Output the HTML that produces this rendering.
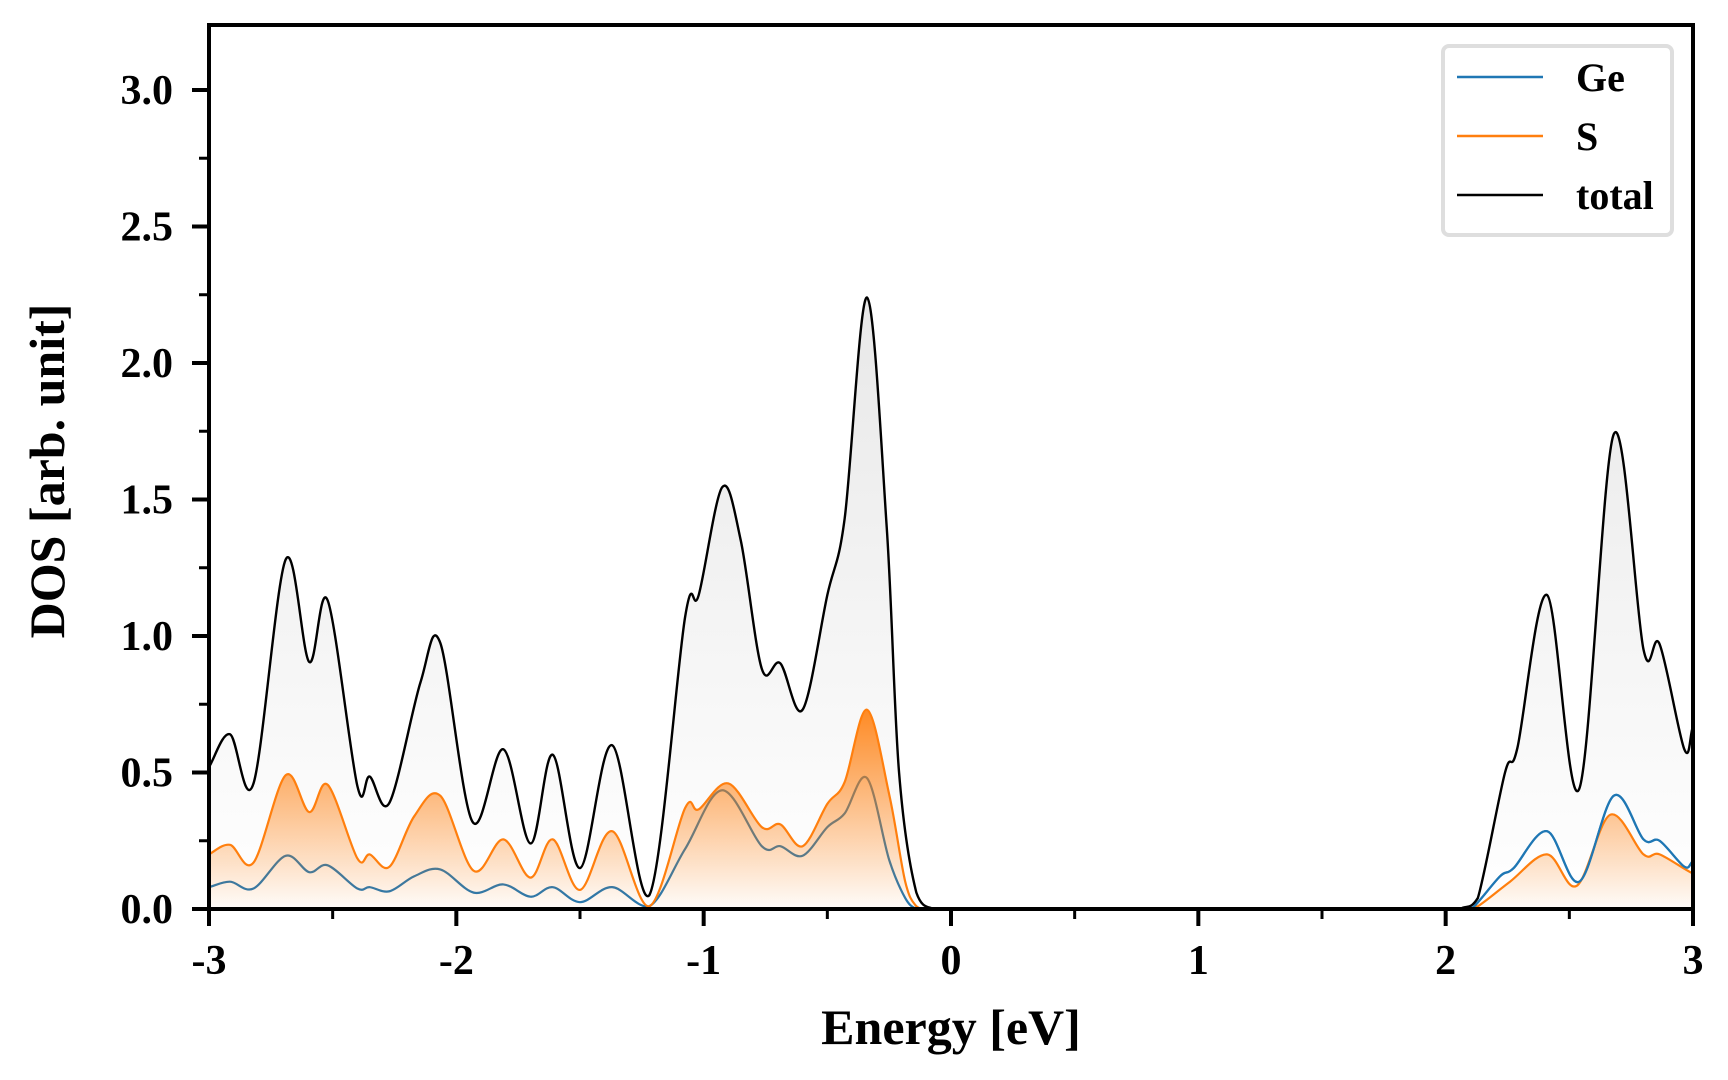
<!DOCTYPE html>
<html><head><meta charset="utf-8"><style>
html,body{margin:0;padding:0;background:#fff;width:1728px;height:1080px;overflow:hidden}
svg text{font-family:"Liberation Serif",serif;font-weight:bold;fill:#000}
</style></head><body>
<svg id="chart" width="1728" height="1080" viewBox="0 0 1728 1080" xmlns="http://www.w3.org/2000/svg">
<defs>
<clipPath id="plotclip"><rect x="209" y="25" width="1484" height="884"/></clipPath>
<linearGradient id="gradS" gradientUnits="userSpaceOnUse" x1="0" y1="710" x2="0" y2="909">
<stop offset="0" stop-color="rgb(255,127,14)" stop-opacity="0.9"/>
<stop offset="1" stop-color="rgb(255,127,14)" stop-opacity="0.02"/>
</linearGradient>
<linearGradient id="gradT" gradientUnits="userSpaceOnUse" x1="0" y1="297" x2="0" y2="909">
<stop offset="0" stop-color="#e8e8e8"/>
<stop offset="1" stop-color="#ffffff"/>
</linearGradient>
</defs>
<g id="plot" clip-path="url(#plotclip)"></g>
<g id="axes"></g>
</svg>
<script>
const totalE=[-3.05,-3,-2.915,-2.82,-2.69,-2.595,-2.52,-2.40,-2.35,-2.27,-2.145,-2.065,-1.935,-1.81,-1.70,-1.61,-1.50,-1.37,-1.22,-1.075,-1.02,-0.925,-0.85,-0.765,-0.69,-0.60,-0.50,-0.43,-0.34,-0.26,-0.21,-0.14,-0.07,0,1.0,2.0,2.07,2.13,2.24,2.29,2.41,2.54,2.68,2.80,2.865,2.965,3.0,3.05];
const totalV=[0.45,0.52,0.64,0.46,1.28,0.905,1.13,0.45,0.485,0.39,0.83,0.975,0.32,0.585,0.24,0.565,0.15,0.60,0.05,1.07,1.15,1.545,1.35,0.88,0.9,0.73,1.15,1.43,2.24,1.40,0.5,0.06,0,0,0,0,0.005,0.04,0.5,0.59,1.15,0.44,1.74,0.95,0.97,0.585,0.67,0.8];
const sE=[-3.05,-3,-2.915,-2.82,-2.69,-2.595,-2.52,-2.40,-2.35,-2.27,-2.17,-2.065,-1.93,-1.81,-1.70,-1.61,-1.50,-1.37,-1.22,-1.075,-1.02,-0.90,-0.765,-0.69,-0.60,-0.50,-0.43,-0.34,-0.25,-0.185,-0.14,-0.1,0,1.0,2.0,2.08,2.13,2.26,2.41,2.53,2.665,2.80,2.865,3.0,3.05];
const sV=[0.17,0.2,0.235,0.17,0.49,0.355,0.455,0.185,0.2,0.155,0.34,0.415,0.14,0.255,0.115,0.255,0.07,0.285,0.01,0.37,0.365,0.46,0.3,0.31,0.23,0.385,0.465,0.73,0.42,0.1,0.01,0,0,0,0,0,0.01,0.1,0.2,0.085,0.345,0.2,0.2,0.13,0.13];
const geE=[-3.05,-3,-2.915,-2.82,-2.69,-2.595,-2.52,-2.40,-2.35,-2.27,-2.17,-2.065,-1.93,-1.81,-1.70,-1.61,-1.50,-1.37,-1.22,-1.075,-0.925,-0.765,-0.69,-0.60,-0.50,-0.43,-0.34,-0.25,-0.185,-0.14,-0.1,0,1.0,2.0,2.07,2.11,2.22,2.275,2.41,2.54,2.68,2.80,2.865,2.965,3.0,3.05];
const geV=[0.07,0.08,0.1,0.075,0.195,0.135,0.16,0.075,0.08,0.065,0.12,0.145,0.06,0.09,0.045,0.08,0.025,0.08,0.01,0.22,0.435,0.23,0.23,0.195,0.30,0.35,0.48,0.18,0.04,0,0,0,0,0,0,0.005,0.12,0.15,0.285,0.1,0.415,0.255,0.25,0.155,0.175,0.2];
const xTicks=[-3,-2,-1,0,1,2,3];
const xTickLabels=["-3","-2","-1","0","1","2","3"];
const yTicks=[0,0.5,1.0,1.5,2.0,2.5,3.0];
const yTickLabels=["0.0","0.5","1.0","1.5","2.0","2.5","3.0"];
const legendLabels=["Ge","S","total"];
const legendColors=["#1f77b4","#ff7f0e","#000000"];

const X0=209,X1=1693,Y0=909,Y1=25,XMIN=-3,XMAX=3,YMIN=0,YMAX=3.238;
function xs(e){return X0+(e-XMIN)/(XMAX-XMIN)*(X1-X0);}
function ys(v){return Y0-(v-YMIN)/(YMAX-YMIN)*(Y0-Y1);}
const NS="http://www.w3.org/2000/svg";
function mk(tag,attrs,parent){const el=document.createElementNS(NS,tag);for(const k in attrs)el.setAttribute(k,attrs[k]);parent.appendChild(el);return el;}
function curve(E,V){
  const p=E.map((e,i)=>[xs(e),ys(V[i])]);
  let d="M"+p[0][0].toFixed(2)+","+p[0][1].toFixed(2);
  for(let i=0;i<p.length-1;i++){
    const a=p[Math.max(i-1,0)],b=p[i],c=p[i+1],n=p[Math.min(i+2,p.length-1)];
    let c1x=b[0]+(c[0]-a[0])/6,c1y=b[1]+(c[1]-a[1])/6;
    let c2x=c[0]-(n[0]-b[0])/6,c2y=c[1]-(n[1]-b[1])/6;
    c1y=Math.min(c1y,Y0);c2y=Math.min(c2y,Y0);
    d+=" C"+c1x.toFixed(2)+","+c1y.toFixed(2)+" "+c2x.toFixed(2)+","+c2y.toFixed(2)+" "+c[0].toFixed(2)+","+c[1].toFixed(2);
  }
  return d;
}
function area(E,V){const d=curve(E,V);return d+" L"+xs(E[E.length-1]).toFixed(2)+","+Y0+" L"+xs(E[0]).toFixed(2)+","+Y0+" Z";}
const plot=document.getElementById('plot');
const axes=document.getElementById('axes');

const tf=mk('path',{d:area(totalE,totalV),fill:'url(#gradT)',stroke:'none'},plot);


const gl=mk('path',{d:curve(geE,geV),fill:'none',stroke:'#1f77b4','stroke-width':2.2},plot);


const sf=mk('path',{d:area(sE,sV),fill:'url(#gradS)',stroke:'none'},plot);


const sl=mk('path',{d:curve(sE,sV),fill:'none',stroke:'#ff7f0e','stroke-width':2.2},plot);


const gl2=mk('path',{d:curve(geE.filter(e=>e>1),geV.filter((v,i)=>geE[i]>1)),fill:'none',stroke:'#1f77b4','stroke-width':2.2},plot);


const tl=mk('path',{d:curve(totalE,totalV),fill:'none',stroke:'#000','stroke-width':2.4},plot);



const frame=mk('rect',{x:X0,y:Y1,width:X1-X0,height:Y0-Y1,fill:'none',stroke:'#000','stroke-width':4},axes);



xTicks.forEach((t,i)=>{
  const x=xs(t);
  const tk=mk('line',{x1:x,y1:Y0,x2:x,y2:Y0+17,stroke:'#000','stroke-width':4},axes);
  
  
  const lb=mk('text',{x:x,y:974,'text-anchor':'middle','font-size':42},axes);
  lb.textContent=xTickLabels[i];
  
  
  if(i<xTicks.length-1){
    const xm=xs(t+0.5);
    const mt=mk('line',{x1:xm,y1:Y0,x2:xm,y2:Y0+10,stroke:'#000','stroke-width':3},axes);
    
    
  }
});
yTicks.forEach((t,i)=>{
  const y=ys(t);
  const tk=mk('line',{x1:X0-17,y1:y,x2:X0,y2:y,stroke:'#000','stroke-width':4},axes);
  
  
  const lb=mk('text',{x:173,y:y+14,'text-anchor':'end','font-size':42},axes);
  lb.textContent=yTickLabels[i];
  
  
  const ym=ys(t+0.25);
  if(ym>Y1){
    const mt=mk('line',{x1:X0-10,y1:ym,x2:X0,y2:ym,stroke:'#000','stroke-width':3},axes);
    
    
  }
});
const xt=mk('text',{x:(X0+X1)/2,y:1044,'text-anchor':'middle','font-size':50},axes);
xt.textContent="Energy [eV]";


const yt=mk('text',{x:0,y:0,'text-anchor':'middle','font-size':50,transform:'translate(64,471) rotate(-90)'},axes);
yt.textContent="DOS [arb. unit]";



const lg=mk('g',{},axes);


const lbox=mk('rect',{x:1443,y:46,width:229,height:189,rx:6,fill:'#fff',stroke:'#dedede','stroke-width':4},lg);


legendLabels.forEach((name,i)=>{
  const y=77+59*i;
  const ln=mk('line',{x1:1457,y1:y,x2:1543,y2:y,stroke:legendColors[i],'stroke-width':2.4},lg);
  
  
  const tx=mk('text',{x:1576,y:y+14,'font-size':40},lg);
  tx.textContent=name;
  
  
});
</script>
</body></html>
